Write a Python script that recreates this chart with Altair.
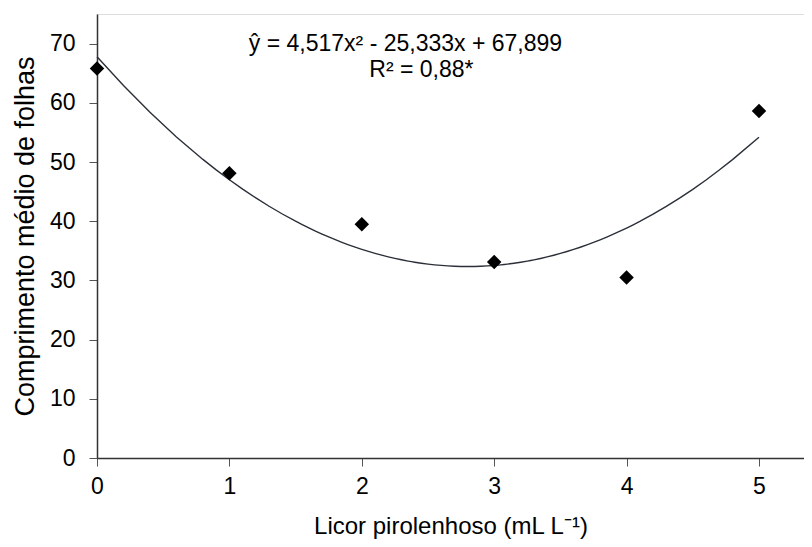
import altair as alt
import pandas as pd

doses = [0, 1, 2, 3, 4, 5]
comprimento = [65.8, 48.1, 39.5, 33.1, 30.5, 58.6]

ann_text = ["ŷ = 4,517x² - 25,333x + 67,899", "R² = 0,88*"]
ann_x = [2.33, 2.45]
ann_y = [68.8, 64.4]

x_ticks = [0, 1, 2, 3, 4, 5]
y_ticks = [0, 10, 20, 30, 40, 50, 60, 70]

df = pd.DataFrame({"x": doses, "y": comprimento})
ann = pd.DataFrame({"t": ann_text, "x": ann_x, "y": ann_y})

FONT = "Liberation Sans"

xscale = alt.Scale(domain=[0, 5.34], nice=False, zero=False)
yscale = alt.Scale(domain=[0, 75], nice=False)

xaxis = alt.Axis(
    values=x_ticks, format="d", grid=False, tickSize=8, labelPadding=9, labelFontSize=23,
    labelFont=FONT, labelColor="#000", title="Licor pirolenhoso (mL L⁻¹)",
    titleFont=FONT, titleFontSize=24, titleFontWeight="normal", titleColor="#000",
    titleY=75, titleBaseline="alphabetic", domainColor="#333", tickColor="#555",
    domainWidth=1.5, labelFlush=False,
)
yaxis = alt.Axis(
    values=y_ticks, format="d", grid=False, tickSize=8, labelPadding=14, labelFontSize=23,
    labelFont=FONT, labelColor="#000", title="Comprimento médio de folhas",
    titleFont=FONT, titleFontSize=27, titleFontWeight="normal", titleColor="#000",
    titleX=-64, titleBaseline="alphabetic", domainColor="#333", tickColor="#555",
    domainWidth=1.5,
)

base = alt.Chart(df)

curve = base.transform_regression(
    "x", "y", method="poly", order=2, extent=[0, 5]
).mark_line(color="#2a2f38", strokeWidth=1.4).encode(
    x=alt.X("x:Q", scale=xscale, axis=xaxis),
    y=alt.Y("y:Q", scale=yscale, axis=yaxis),
)

pts = base.mark_point(shape="diamond", filled=True, color="#000", size=210, opacity=1).encode(
    x=alt.X("x:Q", scale=xscale),
    y=alt.Y("y:Q", scale=yscale),
)

text = alt.Chart(ann).mark_text(
    font=FONT, fontSize=23, color="#000", align="center", baseline="alphabetic"
).encode(
    x=alt.X("x:Q", scale=xscale),
    y=alt.Y("y:Q", scale=yscale),
    text="t:N",
)

chart = alt.layer(curve, pts, text).properties(
    width=707, height=444,
    autosize=alt.AutoSizeParams(type="none"),
    padding={"left": 89, "top": 6, "right": 0, "bottom": 81},
).configure_view(stroke=None).configure(background="white")

chart.save("out.html", embed_options={"renderer": "svg", "actions": False})
